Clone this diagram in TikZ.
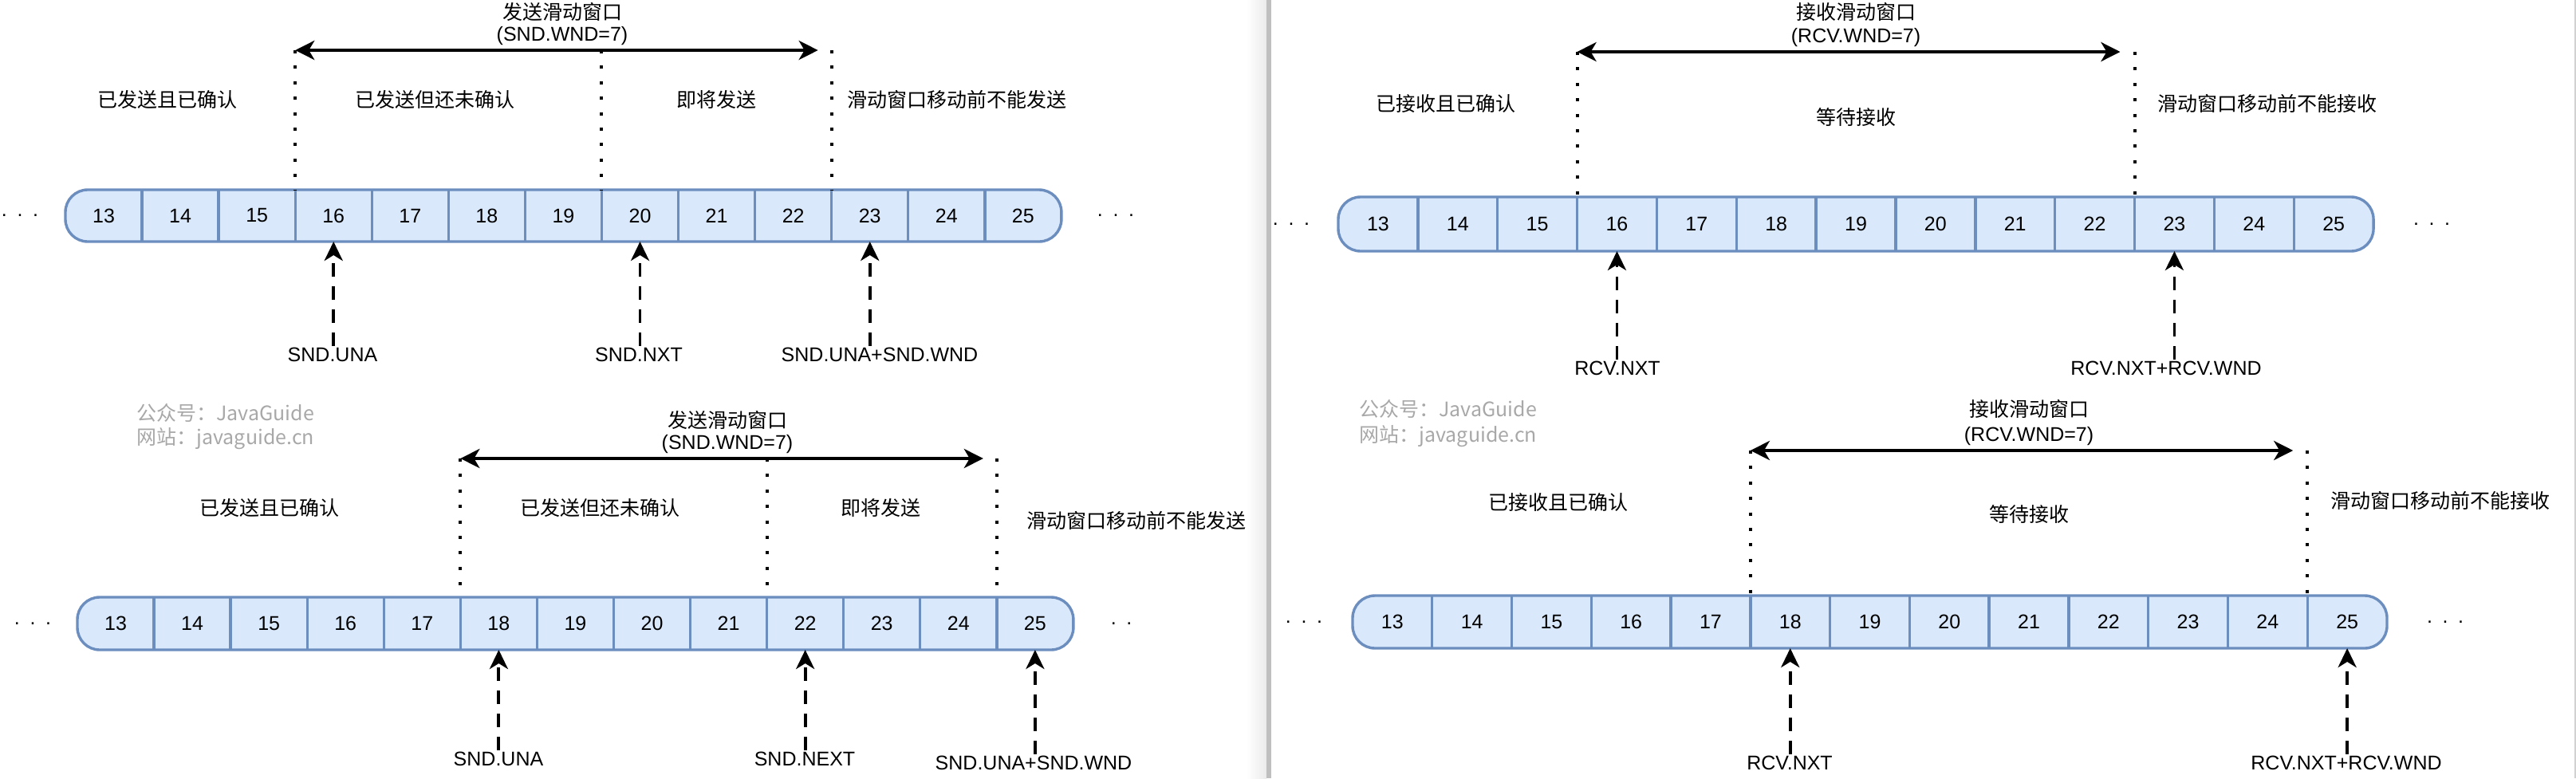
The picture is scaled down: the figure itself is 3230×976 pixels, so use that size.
\documentclass[tikz,border=0pt]{standalone}
\usepackage{fontspec}
\setmainfont{Liberation Sans}
\newfontfamily\cjk{Noto Sans CJK SC}
\usetikzlibrary{arrows.meta}
\definecolor{cellfill}{HTML}{DAE8FC}
\definecolor{cellline}{HTML}{6C8EBF}
\definecolor{wmgray}{HTML}{A8A8A8}
\newcommand\drawbar[5]{%
  \draw[barshape] (#2,#4) rectangle ({#2+13*#3},#5);
  \foreach \n in {13,...,25}{
    \node[cellnum, minimum width={#3*0.5pt}, minimum height={(#5-#4)*0.5pt}] (#1\n) at ({#2+(\n-12.5)*#3},{(#4+#5)/2}) {\n};
  }
  \foreach \n in {13,...,24}{
    \draw[divider] (#1\n.north east) -- (#1\n.south east);
  }
}
\tikzset{
  txt/.style={font=\fontsize{12.5}{15}\selectfont, inner sep=1pt},
  zh/.style={font=\fontsize{12.5}{15}\selectfont\cjk, inner sep=1pt},
  cellnum/.style={font=\fontsize{12.5}{15}\selectfont, inner sep=0pt, outer sep=0pt},
  barshape/.style={draw=cellline, fill=cellfill, line width=1.7pt, rounded corners=14pt},
  divider/.style={draw=cellline, line width=1.7pt},
  winarrow/.style={line width=2.3pt, {Stealth[length=12pt,width=12pt,inset=3.5pt]}-{Stealth[length=12pt,width=12pt,inset=3.5pt]}},
  ptr/.style={line width=1.9pt, dash pattern=on 8.5pt off 6pt, -{Stealth[length=12pt,width=11.5pt,inset=3.5pt]}},
  dotline/.style={line width=2pt, dash pattern=on 2pt off 7.7pt},
  wm/.style={font=\fontsize{12.5}{15}\selectfont\cjk, text=wmgray, anchor=west, inner sep=0pt},
  dotsn/.style={font=\fontsize{12.5}{15}\selectfont, inner sep=0pt, anchor=center},
}
\begin{document}
\begin{tikzpicture}[x=0.5pt, y=-0.5pt]
\useasboundingbox (0,0) rectangle (3230,976);
% divider between the two screenshots
\shade[left color=white, right color=black!8] (1563,0) rectangle (1588,976);
\fill[black!25] (1588,0) rectangle (1594,976);
\fill[black!18] (3228,0) rectangle (3230,976);

% ================= Panel A (send, top) =================
\drawbar{a}{82}{96.07}{238}{303}
\coordinate (ayw) at (0,63);
\coordinate (aw1) at (a16.north west |- ayw);
\coordinate (aw2) at (a20.north west |- ayw);
\coordinate (aw3) at (a23.north west |- ayw);
\draw[dotline] (aw1) -- (a16.north west);
\draw[dotline] (aw2) -- (a20.north west);
\draw[dotline] (aw3) -- (a23.north west);
\draw[winarrow] (aw1) -- ([xshift=-8.5pt]aw3);
\node[zh] (at1) at (705,15) {发送滑动窗口};
\node[txt] (at2) at (705,45) {(SND.WND=7)};
\node[zh] (al1) at (210,125) {已发送且已确认};
\node[zh] (al2) at (545,125) {已发送但还未确认};
\node[zh] (al3) at (898,125) {即将发送};
\node[zh] (al4) at (1200,125) {滑动窗口移动前不能发送};
\node[txt] (ap1) at (417,445) {SND.UNA};
\node[txt] (ap2) at (801,445) {SND.NXT};
\node[txt] (ap3) at (1103,445) {SND.UNA+SND.WND};
\draw[ptr] (a16.south |- ap1.north) -- (a16.south);
\draw[ptr] (a20.south |- ap2.north) -- (a20.south);
\draw[ptr] (a23.south |- ap3.north) -- (a23.south);
\node[dotsn] (ad1) at (25,270) {.\hspace{6.3pt}.\hspace{6.3pt}.};
\node[dotsn] (ad2) at (1399,270) {.\hspace{6.3pt}.\hspace{6.3pt}.};

% ================= Panel B (send, bottom) =================
\node[wm] (bw1) at (171,518) {公众号：JavaGuide};
\node[wm] (bw2) at (171,550) {网站：javaguide.cn};
\drawbar{b}{97}{96.07}{749}{815}
\coordinate (byw) at (0,575);
\coordinate (bw1c) at (b18.north west |- byw);
\coordinate (bw2c) at (b22.north west |- byw);
\coordinate (bw3c) at (b25.north west |- byw);
\draw[dotline] (bw1c) -- (b18.north west);
\draw[dotline] (bw2c) -- (b22.north west);
\draw[dotline] (bw3c) -- (b25.north west);
\draw[winarrow] (bw1c) -- ([xshift=-8.5pt]bw3c);
\node[zh] (bt1) at (912,527) {发送滑动窗口};
\node[txt] (bt2) at (912,557) {(SND.WND=7)};
\node[zh] (bl1) at (338,637) {已发送且已确认};
\node[zh] (bl2) at (752,637) {已发送但还未确认};
\node[zh] (bl3) at (1104,637) {即将发送};
\node[zh] (bl4) at (1425,653) {滑动窗口移动前不能发送};
\node[txt] (bp1) at (625,952) {SND.UNA};
\node[txt] (bp2) at (1009,952) {SND.NEXT};
\node[txt] (bp3) at (1296,957) {SND.UNA+SND.WND};
\draw[ptr] (b18.south |- bp1.north) -- (b18.south);
\draw[ptr] (b22.south |- bp2.north) -- (b22.south);
\draw[ptr] (b25.south |- bp3.north) -- (b25.south);
\node[dotsn] (bd1) at (41,782) {.\hspace{6.3pt}.\hspace{6.3pt}.};
\node[dotsn] (bd2) at (1406,782) {.\hspace{6.3pt}.};

% ================= Panel C (receive, top) =================
\drawbar{c}{1678}{99.85}{247}{315}
\coordinate (cyw) at (0,65);
\coordinate (cw1) at (c16.north west |- cyw);
\coordinate (cw2) at (c23.north west |- cyw);
\draw[dotline] (cw1) -- (c16.north west);
\draw[dotline] (cw2) -- (c23.north west);
\draw[winarrow] (cw1) -- ([xshift=-9pt]cw2);
\node[zh] (ct1) at (2327,15) {接收滑动窗口};
\node[txt] (ct2) at (2327,47) {(RCV.WND=7)};
\node[zh] (cl1) at (1813,130) {已接收且已确认};
\node[zh] (cl2) at (2327,147) {等待接收};
\node[zh] (cl3) at (2843,130) {滑动窗口移动前不能接收};
\node[txt] (cp1) at (2028,462) {RCV.NXT};
\node[txt] (cp2) at (2716,462) {RCV.NXT+RCV.WND};
\draw[ptr] (c16.south |- cp1.north) -- (c16.south);
\draw[ptr] (c23.south |- cp2.north) -- (c23.south);
\node[dotsn] (cd1) at (1619,281) {.\hspace{6.3pt}.\hspace{6.3pt}.};
\node[dotsn] (cd2) at (3049,281) {.\hspace{6.3pt}.\hspace{6.3pt}.};

% ================= Panel D (receive, bottom) =================
\node[wm] (dw1) at (1704,513) {公众号：JavaGuide};
\node[wm] (dw2) at (1704,547) {网站：javaguide.cn};
\drawbar{d}{1696}{99.77}{747}{813}
\coordinate (dyw) at (0,565);
\coordinate (dw1c) at (d18.north west |- dyw);
\coordinate (dw2c) at (d25.north west |- dyw);
\draw[dotline] (dw1c) -- (d18.north west);
\draw[dotline] (dw2c) -- (d25.north west);
\draw[winarrow] (dw1c) -- ([xshift=-9pt]dw2c);
\node[zh] (dt1) at (2544,513) {接收滑动窗口};
\node[txt] (dt2) at (2544,547) {(RCV.WND=7)};
\node[zh] (dl1) at (1954,630) {已接收且已确认};
\node[zh] (dl2) at (2544,645) {等待接收};
\node[zh] (dl3) at (3060,628) {滑动窗口移动前不能接收};
\node[txt] (dp1) at (2244,957) {RCV.NXT};
\node[txt] (dp2) at (2942,957) {RCV.NXT+RCV.WND};
\draw[ptr] (d18.south |- dp1.north) -- (d18.south);
\draw[ptr] (d25.south |- dp2.north) -- (d25.south);
\node[dotsn] (dd1) at (1635,780) {.\hspace{6.3pt}.\hspace{6.3pt}.};
\node[dotsn] (dd2) at (3066,780) {.\hspace{6.3pt}.\hspace{6.3pt}.};
\end{tikzpicture}
\end{document}
